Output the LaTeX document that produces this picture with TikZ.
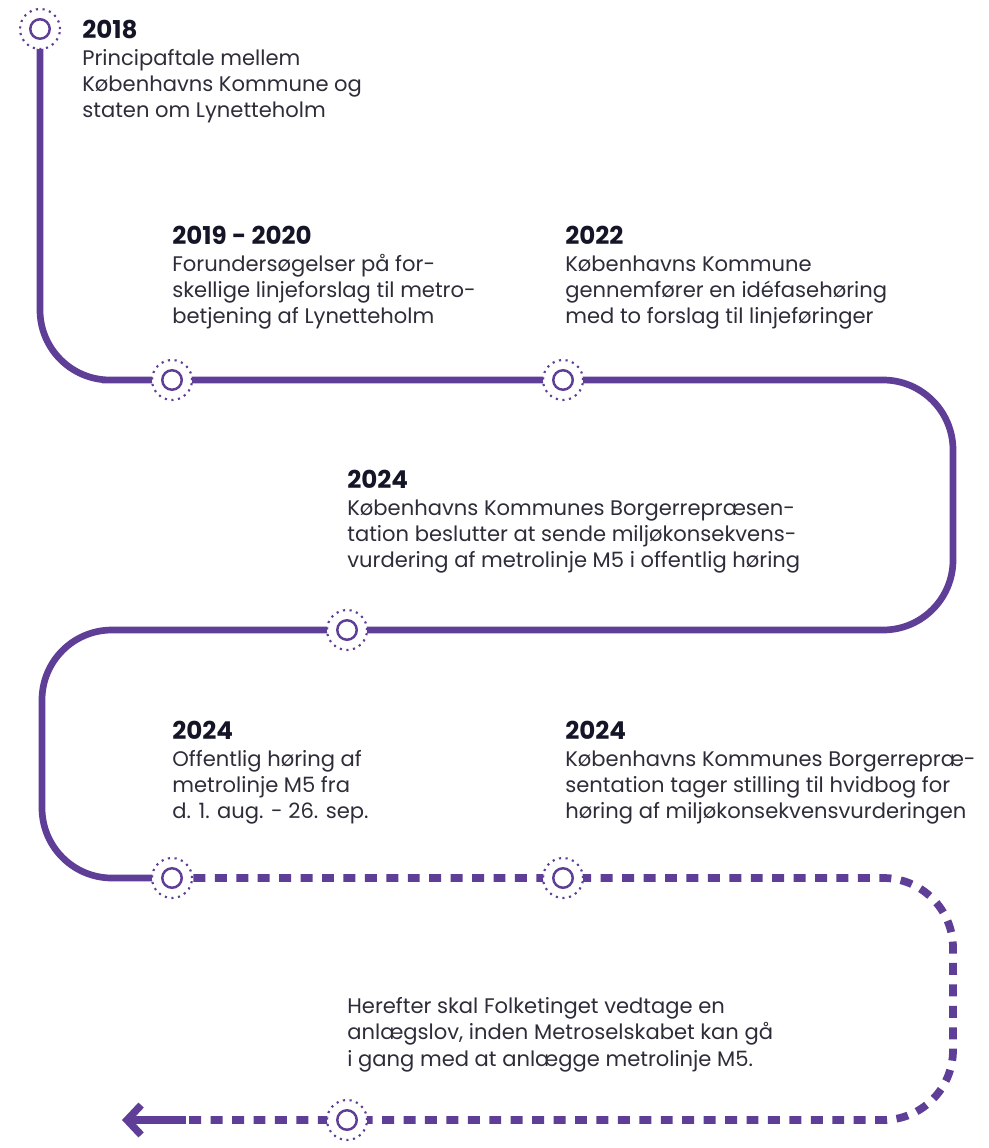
\documentclass[tikz,border=0pt]{standalone}
\usepackage{fontspec}
\setmainfont{Poppins}
\usetikzlibrary{arrows.meta,backgrounds}
\definecolor{metro}{RGB}{94,62,150}
\definecolor{ink}{RGB}{20,22,40}
\definecolor{bodytext}{RGB}{45,45,58}
\tikzset{
  track/.style={metro, line width=3.8pt, rounded corners=1.4cm},
  planned/.style={track, line width=4.4pt, dash pattern=on 6.8pt off 5.4pt},
  ring/.style={circle, draw=metro, fill=white, line width=1.2pt,
    dash pattern=on 1.2pt off 2.6pt, minimum size=0.8cm, inner sep=0pt},
  station/.style={circle, draw=metro, fill=white, line width=1.4pt,
    minimum size=0.39cm, inner sep=0pt},
  event/.style={anchor=north west, align=left, inner sep=0pt, text=bodytext,
    font=\fontsize{12}{15}\selectfont},
}
\newcommand{\yr}[1]{{\color{ink}\fontsize{14}{15}\selectfont\bfseries #1}}

\begin{document}
\begin{tikzpicture}[x=0.02cm, y=-0.02cm]
  \useasboundingbox (0,0) rectangle (988,1148);

  % stations along the line
  \foreach \n/\p in {s1/{40,29}, s2/{172,380}, s3/{563,380}, s4/{347,630},
                     s5/{172,878}, s6/{563,878}, s7/{347,1120}} {
    \node[ring] (\n r) at (\p) {};
    \node[station] (\n) at (\p) {};
  }

  % corners and arrow ends
  \coordinate (ne1) at (953,380);
  \coordinate (se1) at (953,630);
  \coordinate (nw2) at (42,630);
  \coordinate (sw2) at (42,878);
  \coordinate (ne3) at (953,878);
  \coordinate (se3) at (953,1120);
  \coordinate (tail) at (186,1120);
  \coordinate (tip) at (122,1120);

  % the track
  \begin{scope}[on background layer]
    \draw[track] (s1.center) |- (s2.center) -- (s3.center) -- (ne1) -- (se1)
      -- (s4.center) -- (nw2) -- (sw2) -- (s5.center);
    \draw[planned] (s5.center) -- (s6.center) -- (ne3) -- (se3)
      -- (s7.center) -- (tail);
    \draw[track, line width=4.2pt, -{Straight Barb[length=8pt, width=17pt]}] (tail) -- (tip);
  \end{scope}

  % texts
  \node[event] (t2018) at (82,20) {\yr{2018}\\Principaftale mellem\\
    Københavns Kommune og\\staten om Lynetteholm};
  \node[event] (t1920) at (172,226) {\yr{2019 - 2020}\\Forundersøgelser på for-\\
    skellige linjeforslag til metro-\\betjening af Lynetteholm};
  \node[event] (t2022) at (565,226) {\yr{2022}\\Københavns Kommune\\
    gennemfører en idéfasehøring\\med to forslag til linjeføringer};
  \node[event] (t2024a) at (347,470) {\yr{2024}\\Københavns Kommunes Borgerrepræsen-\\
    tation beslutter at sende miljøkonsekvens-\\vurdering af metrolinje M5 i offentlig høring};
  \node[event] (t2024b) at (172,721) {\yr{2024}\\Offentlig høring af\\
    metrolinje M5 fra\\d. 1. aug. - 26. sep.};
  \node[event] (t2024c) at (565,721) {\yr{2024}\\Københavns Kommunes Borgerrepræ-\\
    sentation tager stilling til hvidbog for\\høring af miljøkonsekvensvurderingen};
  \node[event] (tnext) at (347,997) {Herefter skal Folketinget vedtage en\\
    anlægslov, inden Metroselskabet kan gå\\i gang med at anlægge metrolinje M5.};
\end{tikzpicture}
\end{document}
